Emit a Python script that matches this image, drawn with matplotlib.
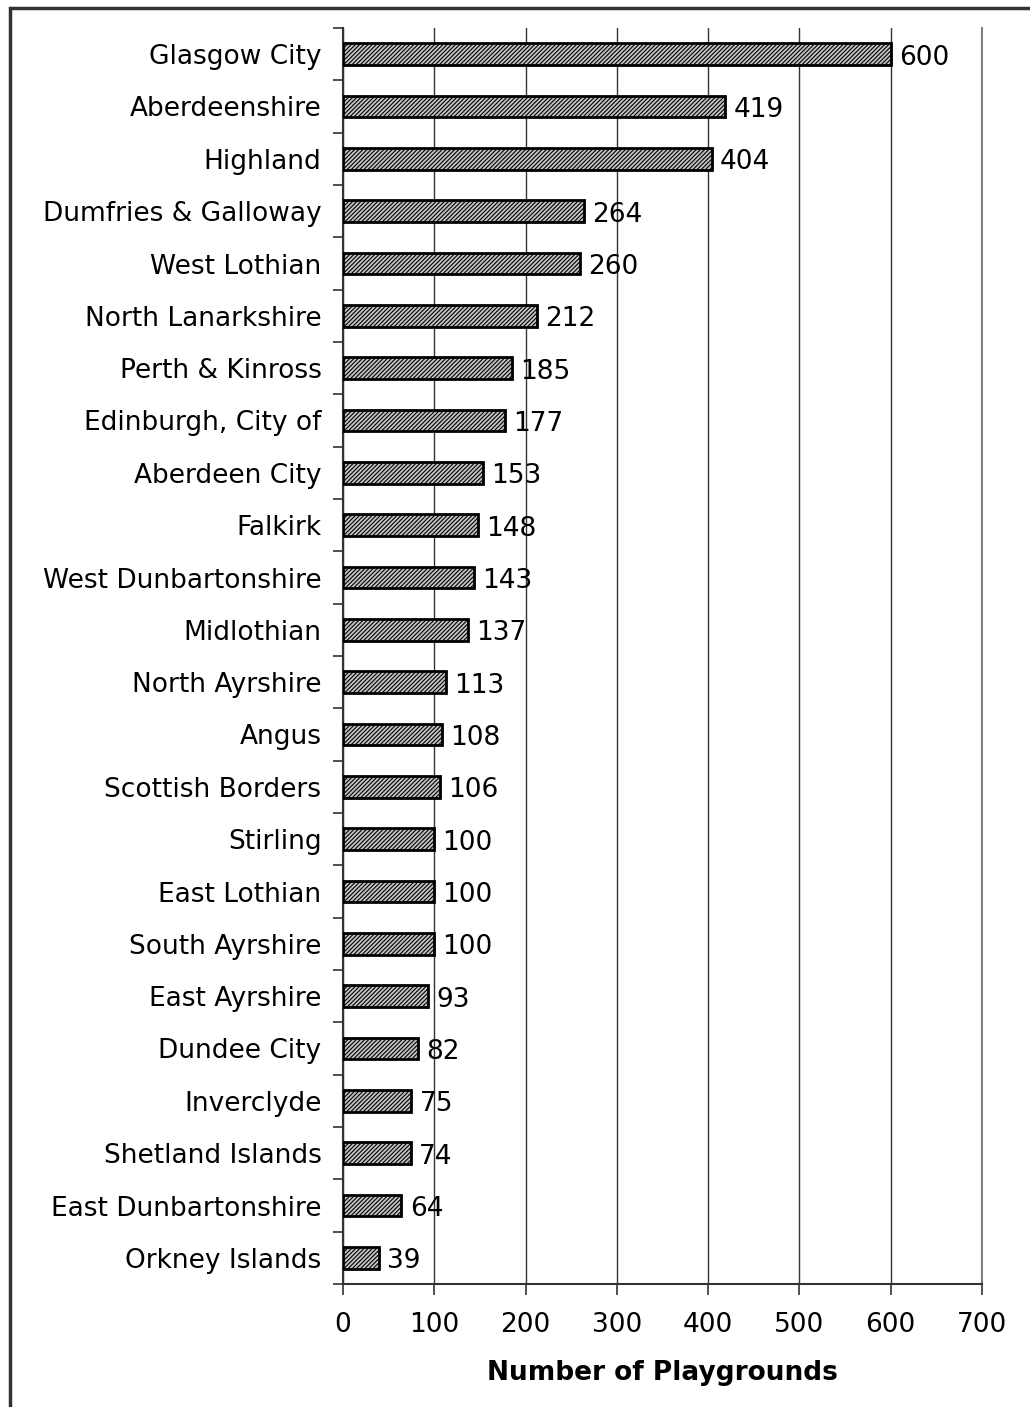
import matplotlib
matplotlib.use("Agg")
import matplotlib.pyplot as plt
from matplotlib.patches import Rectangle
import numpy as np

categories = ["Glasgow City", "Aberdeenshire", "Highland", "Dumfries & Galloway",
              "West Lothian", "North Lanarkshire", "Perth & Kinross",
              "Edinburgh, City of", "Aberdeen City", "Falkirk",
              "West Dunbartonshire", "Midlothian", "North Ayrshire", "Angus",
              "Scottish Borders", "Stirling", "East Lothian", "South Ayrshire",
              "East Ayrshire", "Dundee City", "Inverclyde", "Shetland Islands",
              "East Dunbartonshire", "Orkney Islands"]
values = [600, 419, 404, 264, 260, 212, 185, 177, 153, 148, 143, 137, 113,
          108, 106, 100, 100, 100, 93, 82, 75, 74, 64, 39]
xticks = [0, 100, 200, 300, 400, 500, 600, 700]
xlabel = "Number of Playgrounds"

plt.rcParams['font.family'] = ['Verdana', 'DejaVu Sans']
plt.rcParams['hatch.color'] = '#333333'
plt.rcParams['hatch.linewidth'] = 0.8

FS = 19

fig = plt.figure(figsize=(10.30, 14.07), dpi=100)
ax = fig.add_axes([343/1030, 1 - 1284/1407, (982-343)/1030, (1284-28)/1407])

y = np.arange(len(categories))
ax.barh(y, values, height=0.42, color='#c4c4c4', edgecolor='black',
        linewidth=2, hatch='////////', zorder=3)
for yi, v in zip(y, values):
    ax.text(v + 9, yi + 0.07, str(v), va='center', ha='left', fontsize=FS, zorder=4)

ax.set_ylim(len(categories) - 0.5, -0.5)
ax.set_xlim(0, 700)
ax.set_xticks(xticks)
ax.set_xticklabels([str(t) for t in xticks], fontsize=FS)
ax.set_yticks(y)
ax.set_yticklabels(categories, fontsize=FS)
ax.set_yticks(np.arange(len(categories) + 1) - 0.5, minor=True)
ax.tick_params(axis='y', which='major', length=0, pad=15.5)
ax.tick_params(axis='y', which='minor', length=7, width=1.2, color='#333333', direction='out')
ax.tick_params(axis='x', which='major', length=8, width=1.2, color='#333333', direction='out', pad=12)
ax.grid(axis='x', color='#333333', linewidth=1.0, zorder=0)
ax.axvline(700, color='#888888', linewidth=1.5, zorder=0, clip_on=False)
ax.set_axisbelow(True)
for s in ['top', 'right']:
    ax.spines[s].set_visible(False)
for s in ['left', 'bottom']:
    ax.spines[s].set_color('#333333')
    ax.spines[s].set_linewidth(1.5)
ax.set_xlabel(xlabel, fontsize=FS, fontweight='bold', labelpad=16)

fig.patches.append(Rectangle((10/1030, -0.05), 1.2, 1 - 8/1407 + 0.05,
                             transform=fig.transFigure, fill=False,
                             edgecolor='#333333', linewidth=2.5))

fig.savefig("out.png", dpi=100)
